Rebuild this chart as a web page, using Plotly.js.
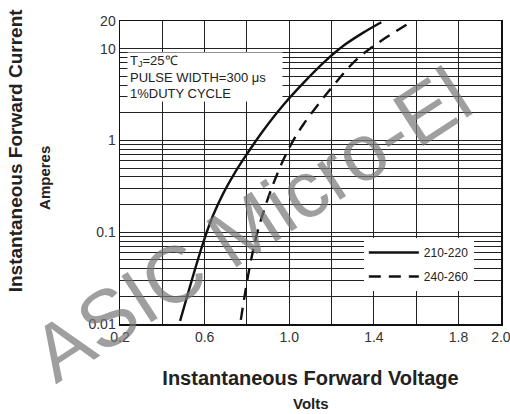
<!DOCTYPE html>
<html>
<head>
<meta charset="utf-8">
<script src="https://cdn.plot.ly/plotly-3.0.1.min.js"></script>
<style>
  html, body { margin: 0; padding: 0; background: #fff; }
  #chart { width: 510px; height: 414px; }
</style>
</head>
<body>
<div id="chart"></div>
<script>
// ---- data ----
const seriesNames = ["210-220", "240-260"];

const voltsSolid = [0.484, 0.591, 0.639, 0.688, 0.737, 0.785, 0.833, 0.879, 0.972, 1.068, 1.166, 1.262, 1.357, 1.435];
const ampsSolid  = [0.0108, 0.0743, 0.151, 0.265, 0.422, 0.632, 0.921, 1.30, 2.43, 4.26, 7.17, 11.0, 15.3, 19.4];

const voltsDash = [0.771, 0.809, 0.847, 0.888, 0.930, 0.972, 1.015, 1.068, 1.190, 1.310, 1.404, 1.565];
const ampsDash  = [0.0111, 0.0375, 0.0953, 0.196, 0.362, 0.614, 0.963, 1.51, 3.51, 7.31, 10.9, 18.9];

const xTickVals = [0.2, 0.6, 1.0, 1.4, 1.8, 2.0];
const xTickText = ["0.2", "0.6", "1.0", "1.4", "1.8", "2.0"];
const xGridVals = [0.4, 0.8, 1.2, 1.6];
const yTickVals = [0.01, 0.1, 1, 10, 20];
const yTickText = ["0.01", "0.1", "1", "10", "20"];

// minor log grid lines (2..9 in each full decade)
const yMinorVals = [];
[0.01, 0.1, 1].forEach(d => { for (let k = 2; k <= 9; k++) yMinorVals.push(+(d * k).toPrecision(3)); });

const FONT = "Arial, 'Liberation Sans', sans-serif";

const traces = [
  {
    x: voltsSolid, y: ampsSolid, name: seriesNames[0], type: "scatter", mode: "lines",
    line: { color: "#111", width: 2.4, shape: "spline", smoothing: 1 },
    legendgroup: "a"
  },
  {
    x: voltsDash, y: ampsDash, name: seriesNames[1], type: "scatter", mode: "lines",
    line: { color: "#111", width: 2.4, dash: "12px,8px", shape: "spline", smoothing: 1 },
    legendgroup: "b"
  }
];

const layout = {
  width: 510, height: 414,
  margin: { l: 120, r: 9, t: 21, b: 90 },
  paper_bgcolor: "#fff", plot_bgcolor: "#fff",
  font: { family: FONT, color: "#333" },
  showlegend: true,
  legend: {
    x: 0.64, y: 0.284, xanchor: "left", yanchor: "top",
    bgcolor: "#fff", borderwidth: 0,
    font: { size: 12, color: "#222", family: FONT },
    traceorder: "grouped", tracegroupgap: 5, itemwidth: 50
  },
  xaxis: {
    range: [0.2, 2.0005], tickmode: "array", tickvals: xTickVals, ticktext: xTickText,
    ticklabeloverflow: "allow",
    showgrid: true, gridcolor: "#222", gridwidth: 1,
    minor: { tickmode: "array", tickvals: xGridVals, showgrid: true, gridcolor: "#222", gridwidth: 1, ticks: "" },
    showline: true, mirror: true, linecolor: "#111", linewidth: 1.5,
    zeroline: false, ticks: "", tickfont: { size: 14, color: "#333" },
    title: { text: "Instantaneous Forward Voltage", font: { size: 20, color: "#222", family: FONT, weight: "bold" }, standoff: 26 }
  },
  yaxis: {
    type: "log", range: [-2, Math.log10(20)],
    tickmode: "array", tickvals: yTickVals, ticktext: yTickText,
    ticklabeloverflow: "allow",
    showgrid: true, gridcolor: "#222", gridwidth: 1,
    minor: { tickmode: "array", tickvals: yMinorVals, showgrid: true, gridcolor: "#222", gridwidth: 1, ticks: "" },
    showline: true, mirror: true, linecolor: "#111", linewidth: 1.5,
    zeroline: false, ticks: "", tickfont: { size: 14, color: "#333" }
  },
  annotations: [
    {
      xref: "paper", yref: "paper", x: 0.018, y: 0.898, xanchor: "left", yanchor: "top",
      align: "left", valign: "middle", width: 150, height: 44,
      showarrow: false, bgcolor: "#fff", borderpad: 2,
      text: "T<sub>J</sub>=25℃<br>PULSE WIDTH=300 μs<br>1%DUTY CYCLE",
      font: { size: 13, color: "#222", family: FONT }
    },
    {
      xref: "paper", yref: "paper", x: 0.5, y: -0.262, xanchor: "center", yanchor: "middle",
      showarrow: false, text: "Volts",
      font: { size: 15, color: "#222", family: FONT, weight: "bold" }
    },
    {
      xref: "paper", yref: "paper", x: -0.275, y: 0.574, xanchor: "center", yanchor: "middle",
      showarrow: false, textangle: -90, text: "Instantaneous Forward Current",
      font: { size: 19, color: "#222", family: FONT, weight: "bold" }
    },
    {
      xref: "paper", yref: "paper", x: -0.197, y: 0.482, xanchor: "center", yanchor: "middle",
      showarrow: false, textangle: -90, text: "Amperes",
      font: { size: 15, color: "#222", family: FONT, weight: "bold" }
    },
    {
      xref: "paper", yref: "paper", x: 0.345, y: 0.33, xanchor: "center", yanchor: "middle",
      showarrow: false, textangle: -33, text: "ASIC Micro-El", opacity: 0.7,
      font: { size: 80, color: "#777", family: FONT }
    }
  ]
};

Plotly.newPlot("chart", traces, layout, { displayModeBar: false, staticPlot: true });
</script>
</body>
</html>
